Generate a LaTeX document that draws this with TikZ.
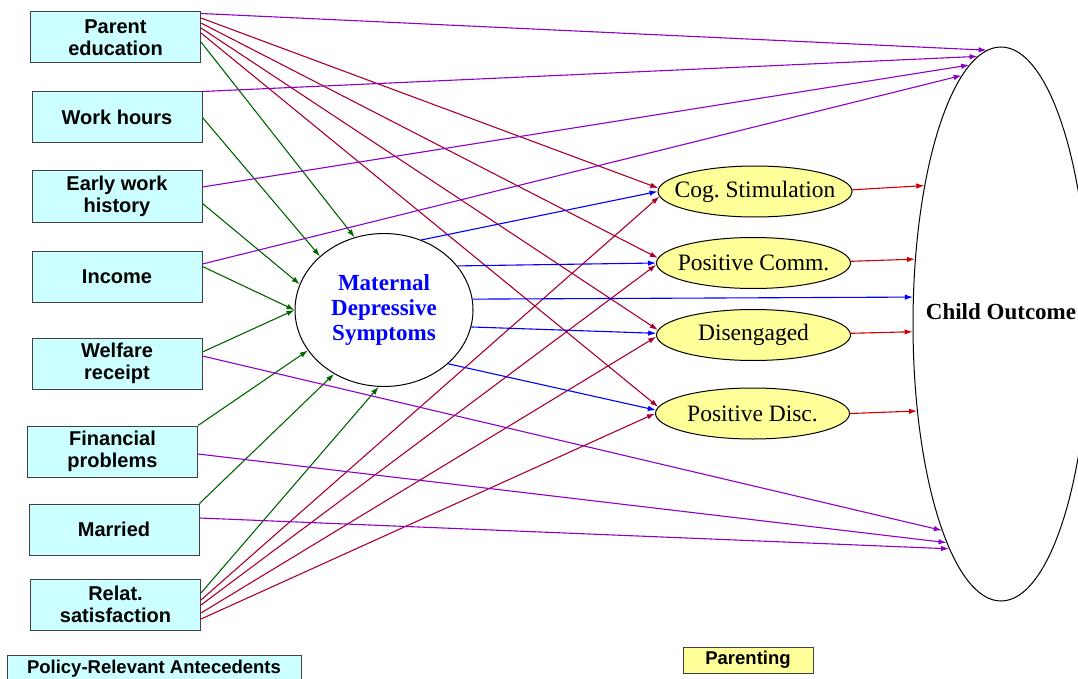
\documentclass[tikz,border=0pt]{standalone}
\usepackage{fontspec}
\setmainfont{Liberation Serif}
\setsansfont{Liberation Sans}
\usetikzlibrary{shapes.geometric,arrows.meta}

\definecolor{antecyan}{RGB}{204,255,255}
\definecolor{parentyellow}{RGB}{255,255,153}
\definecolor{pathpurple}{RGB}{140,0,200}
\definecolor{pathred}{RGB}{170,0,45}
\definecolor{outred}{RGB}{210,0,0}
\definecolor{pathgreen}{RGB}{0,100,0}
\definecolor{pathblue}{RGB}{0,0,255}

\begin{document}
\begin{tikzpicture}[x=1pt, y=-1pt, >={Latex[length=8pt,width=5.5pt]},
    ante/.style={draw=black!75, fill=antecyan, line width=1pt, minimum width=170pt, minimum height=51pt,
                 inner sep=0pt, align=center, font=\sffamily\bfseries\fontsize{20}{22}\selectfont},
    parent/.style={ellipse, draw, fill=parentyellow, line width=1pt, minimum width=194pt, minimum height=51pt,
                   inner ysep=0pt, inner xsep=-25pt, font=\fontsize{23.5}{26}\selectfont},
    legend/.style={draw=black!75, line width=1pt, inner sep=0pt, font=\sffamily\bfseries\fontsize{18.5}{20}\selectfont},
    pur/.style={->, draw=pathpurple, line width=1.1pt},
    drd/.style={->, draw=pathred, line width=1.1pt},
    ord/.style={->, draw=outred, line width=1.1pt},
    grn/.style={->, draw=pathgreen, line width=1.1pt},
    blu/.style={->, draw=pathblue, line width=1.1pt}]
    \useasboundingbox (0,0) rectangle (1078,679);

                  % NODES
                  \node[ante] (pe) at (115.5,37.5) {Parent\\education};
                  \node[ante] (wh) at (117,117.5) {Work hours};
                  \node[ante] (ewh) at (117,196.5) {Early work\\history};
                  \node[ante] (inc) at (117,276.5) {Income};
                  \node[ante] (wel) at (117,363.5) {Welfare\\receipt};
                  \node[ante] (fin) at (112.5,451.5) {Financial\\problems};
                  \node[ante] (mar) at (114,529.5) {Married};
                  \node[ante] (rel) at (115.5,604.5) {Relat.\\satisfaction};

                  \node[ellipse, draw, line width=1pt, minimum width=178pt, minimum height=153pt, inner sep=0pt,
                        align=center, text=pathblue, font=\bfseries\fontsize{23}{25}\selectfont]
                        (mds) at (384,310) {Maternal\\Depressive\\Symptoms};

                  \node[parent] (cog) at (755,191.5) {Cog.\ Stimulation};
                  \node[parent] (pc) at (753.5,263) {Positive Comm.};
                  \node[parent] (dis) at (753.5,335) {Disengaged};
                  \node[parent] (pd) at (752.5,413.5) {Positive Disc.};

                  \node[ellipse, draw, line width=1pt, minimum width=176pt, minimum height=554pt, inner sep=0pt] (co) at (1001,324) {};
                  \node[font=\bfseries\fontsize{23}{25}\selectfont] (colabel) at (1001,312) {Child Outcome};

                  \node[legend, fill=antecyan, minimum width=294pt, minimum height=27pt] (antelegend) at (154,668.5) {Policy-Relevant Antecedents};
                  \node[legend, fill=parentyellow, minimum width=130pt, minimum height=26pt] (parentlegend) at (748,660) {Parenting};

                  % LINES: antecedents to maternal depression
                  \draw[grn] ([yshift=-4.5pt]pe.east) -- (mds.112.5);
                  \draw[grn] (wh.east) -- (mds.140.7);
                  \draw[grn] ([yshift=-7pt]ewh.east) -- (mds.163.6);
                  \draw[grn] ([yshift=10pt]inc.east) -- (mds.180);
                  \draw[grn] ([yshift=11.5pt]wel.east) -- (mds.180);
                  \draw[grn] (fin.north east) -- (mds.208);
                  \draw[grn] (mar.north east) -- (mds.232);
                  \draw[grn] ([yshift=11.5pt]rel.east) -- (mds.266);

                  % LINES: antecedents to parenting
                  \draw[drd] ([yshift=19.5pt]pe.east) -- (cog.178);
                  \draw[drd] ([yshift=14.5pt]pe.east) -- (pc.177);
                  \draw[drd] ([yshift=9.5pt]pe.east) -- (dis.177);
                  \draw[drd] ([yshift=4.5pt]pe.east) -- (pd.176);
                  \draw[drd] ([yshift=4.5pt]rel.east) -- (cog.183);
                  \draw[drd] ([yshift=-0.5pt]rel.east) -- (pc.181);
                  \draw[drd] ([yshift=-8.5pt]rel.east) -- (dis.181);
                  \draw[drd] ([yshift=-14.5pt]rel.east) -- (pd.180);

                  % LINES: antecedents to child outcome
                  \draw[pur] ([yshift=-2pt]pe.north east) -- (co.93.3);
                  \draw[pur] (wh.north east) -- (co.95);
                  \draw[pur] ([yshift=9.5pt]ewh.east) -- (co.97.1);
                  \draw[pur] ([yshift=12.5pt]inc.east) -- (co.99);
                  \draw[pur] ([yshift=7.5pt]wel.east) -- (co.254.1);
                  \draw[pur] ([yshift=-2.5pt]fin.east) -- (co.256);
                  \draw[pur] ([yshift=11.5pt]mar.east) -- (co.257.6);

                  % LINES: maternal depression onwards
                  \draw[blu] (mds.62.8) -- (cog.west);
                  \draw[blu] (mds.31.3) -- (pc.west);
                  \draw[blu] (mds.7.7) -- (co.163.5);
                  \draw[blu] (mds.-11) -- (dis.179);
                  \draw[blu] (mds.-40.6) -- (pd.178);

                  % LINES: parenting to child outcome
                  \draw[ord] (cog.1) -- (co.119.7);
                  \draw[ord] (pc.1) -- (co.143.7);
                  \draw[ord] (dis.1) -- (co.185.8);
                  \draw[ord] (pd.0) -- (co.226.9);
\end{tikzpicture}
\end{document}
